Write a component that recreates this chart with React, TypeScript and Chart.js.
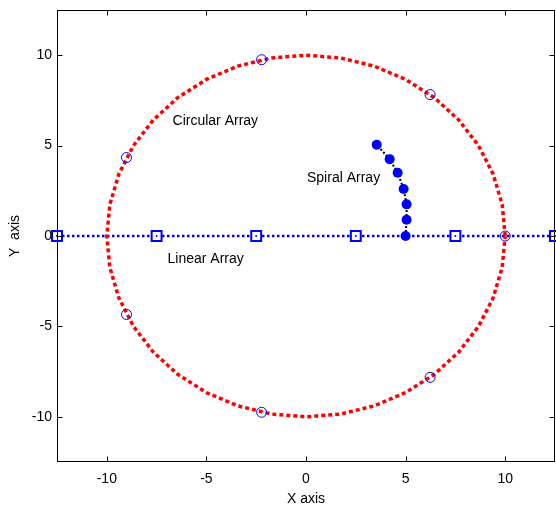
import React, { useEffect, useRef } from 'react';
import { Chart, registerables } from 'chart.js';
Chart.register(...registerables);

// Circle of radius 10 (every 10 degrees)
const circleX = [10, 9.848, 9.397, 8.66, 7.66, 6.428, 5, 3.42, 1.736, 0, -1.736, -3.42, -5, -6.428, -7.66, -8.66, -9.397, -9.848, -10, -9.848, -9.397, -8.66, -7.66, -6.428, -5, -3.42, -1.736, 0, 1.736, 3.42, 5, 6.428, 7.66, 8.66, 9.397, 9.848, 10];
const circleY = [0, 1.736, 3.42, 5, 6.428, 7.66, 8.66, 9.397, 9.848, 10, 9.848, 9.397, 8.66, 7.66, 6.428, 5, 3.42, 1.736, 0, -1.736, -3.42, -5, -6.428, -7.66, -8.66, -9.397, -9.848, -10, -9.848, -9.397, -8.66, -7.66, -6.428, -5, -3.42, -1.736, 0];

// Circular array elements
const elemX = [10, 6.23, -2.23, -9.01, -9.01, -2.23, 6.23];
const elemY = [0, 7.82, 9.75, 4.34, -4.34, -9.75, -7.82];

// Linear array elements
const linX = [-12.5, -7.5, -2.5, 2.5, 7.5, 12.5];
const linY = [0, 0, 0, 0, 0, 0];

// Spiral array elements
const spX = [5.0, 5.05, 5.05, 4.9, 4.6, 4.2, 3.55];
const spY = [0, 0.9, 1.75, 2.6, 3.5, 4.25, 5.05];

// Annotations
const labelText = ['Circular Array', 'Spiral Array', 'Linear Array'];
const labelX = [-6.7, 0.05, -6.95];
const labelY = [6.33, 3.22, -1.28];

const tickValues = [-10, -5, 0, 5, 10];
const axisMin = -12.5;
const axisMax = 12.5;

const FONT = 'Arial, "Liberation Sans", sans-serif';

const toPts = (xs: number[], ys: number[]) => xs.map((x, i) => ({ x, y: ys[i] }));

export default function App() {
  const ref = useRef<HTMLCanvasElement | null>(null);
  useEffect(() => {
    if (!ref.current) return;
    const framePlugin = {
      id: 'frame',
      afterDatasetsDraw(chart: any) {
        const ctx = chart.ctx;
        const { left, right, top, bottom } = chart.chartArea;
        const xs = chart.scales.x;
        const ys = chart.scales.y;
        ctx.save();
        // annotations
        ctx.fillStyle = '#000';
        ctx.font = '14px ' + FONT;
        ctx.textAlign = 'left';
        ctx.textBaseline = 'middle';
        labelText.forEach((t, i) => {
          ctx.fillText(t, xs.getPixelForValue(labelX[i]), ys.getPixelForValue(labelY[i]));
        });
        // frame
        ctx.strokeStyle = '#000';
        ctx.lineWidth = 1;
        const L = Math.round(left) + 0.5, R = Math.round(right) - 0.5;
        const T = Math.round(top) + 0.5, B = Math.round(bottom) - 0.5;
        ctx.strokeRect(L, T, R - L, B - T);
        ctx.beginPath();
        const tl = 5;
        tickValues.forEach((v) => {
          const px = Math.round(xs.getPixelForValue(v)) + 0.5;
          ctx.moveTo(px, B); ctx.lineTo(px, B - tl);
          ctx.moveTo(px, T); ctx.lineTo(px, T + tl);
          const py = Math.round(ys.getPixelForValue(v)) + 0.5;
          ctx.moveTo(L, py); ctx.lineTo(L + tl, py);
          ctx.moveTo(R, py); ctx.lineTo(R - tl, py);
        });
        ctx.stroke();
        ctx.restore();
      },
    };

    const chart = new Chart(ref.current, {
      type: 'scatter',
      data: {
        datasets: [
          {
            data: toPts(spX, spY),
            showLine: true,
            borderColor: '#000',
            borderWidth: 2,
            borderDash: [2, 2],
            pointStyle: 'circle',
            pointRadius: 5,
            pointBackgroundColor: '#0000ff',
            pointBorderColor: '#0000ff',
            pointBorderWidth: 0,
          },
          {
            data: toPts(elemX, elemY),
            showLine: false,
            pointStyle: 'circle',
            pointRadius: 5,
            pointBackgroundColor: 'rgba(0,0,0,0)',
            pointBorderColor: '#0000ff',
            pointBorderWidth: 1,
          },
          {
            data: toPts(circleX, circleY),
            showLine: true,
            borderColor: '#ff0000',
            borderWidth: 3.5,
            borderDash: [4, 3],
            pointRadius: 0,
          },
          {
            data: toPts(linX, linY),
            showLine: false,
            pointStyle: 'circle',
            pointRadius: 1,
            pointBackgroundColor: '#0000ff',
            pointBorderColor: '#0000ff',
            pointBorderWidth: 0,
            clip: false,
          },
          {
            data: toPts(linX, linY),
            showLine: true,
            borderColor: '#0000ff',
            borderWidth: 2.5,
            borderDash: [2.5, 2.5],
            pointStyle: 'rect',
            pointRadius: 7,
            pointBackgroundColor: '#ffffff',
            pointBorderColor: '#0000ff',
            pointBorderWidth: 2,
            clip: false,
          },
        ],
      },
      options: {
        animation: false,
        responsive: false,
        devicePixelRatio: 1,
        events: [],
        layout: { autoPadding: false, padding: { top: 10, right: 1, left: 0, bottom: 0 } },
        plugins: { legend: { display: false }, tooltip: { enabled: false } },
        scales: {
          x: {
            type: 'linear',
            min: axisMin,
            max: axisMax,
            grid: { display: false, drawTicks: false },
            border: { display: false },
            afterBuildTicks: (s: any) => { s.ticks = tickValues.map((v) => ({ value: v })); },
            afterFit: (s: any) => { s.height = 46; s.paddingLeft = 0; s.paddingRight = 0; },
            ticks: { color: '#000', font: { family: FONT, size: 14 }, padding: 9, maxRotation: 0 },
            title: { display: true, text: 'X axis', color: '#000', font: { family: FONT, size: 14 }, padding: { top: 2, bottom: 0 } },
          },
          y: {
            type: 'linear',
            min: axisMin,
            max: axisMax,
            grid: { display: false, drawTicks: false },
            border: { display: false },
            afterBuildTicks: (s: any) => { s.ticks = tickValues.map((v) => ({ value: v })); },
            afterFit: (s: any) => { s.width = 57; s.paddingTop = 0; s.paddingBottom = 0; },
            ticks: { color: '#000', font: { family: FONT, size: 14 }, padding: 5 },
            title: { display: true, text: 'Y  axis', color: '#000', font: { family: FONT, size: 14 }, padding: { top: 7, bottom: 2 } },
          },
        },
      },
      plugins: [framePlugin],
    } as any);
    return () => chart.destroy();
  }, []);
  return (
    <div style={{ position: 'absolute', left: 0, top: 0, width: 556, height: 508, background: '#fff' }}>
      <canvas ref={ref} width={556} height={508} style={{ display: 'block' }} />
    </div>
  );
}
